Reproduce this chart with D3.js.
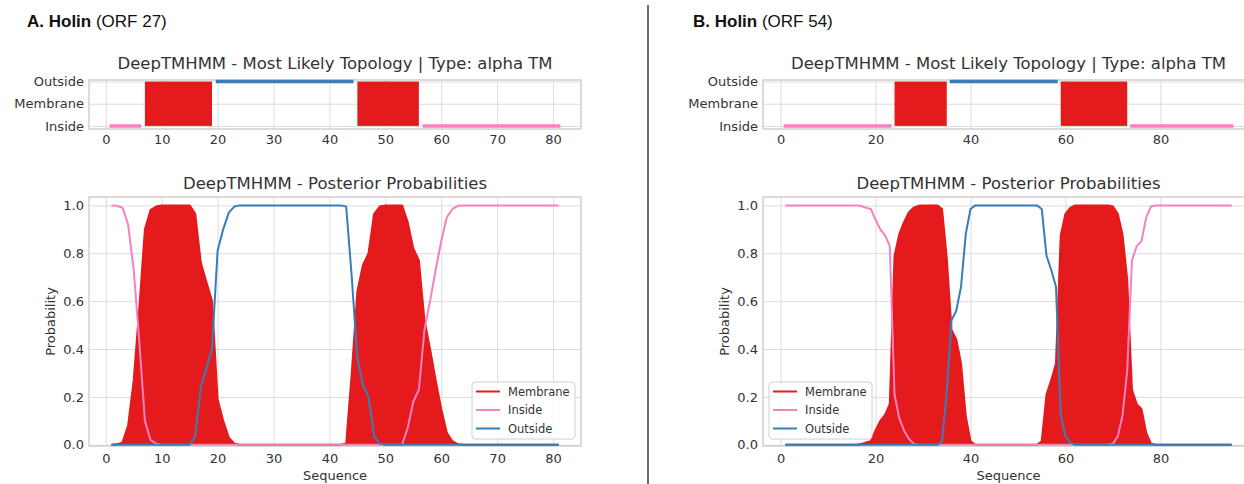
<!DOCTYPE html>
<html>
<head>
<meta charset="utf-8">
<script src="https://cdn.jsdelivr.net/npm/d3@7"></script>
<style>
  body { margin: 0; background: #fff; }
  svg { display: block; font-family: "DejaVu Sans", sans-serif; }
</style>
</head>
<body>
<div id="chart"></div>
<script>
// topology classes, bottom to top
var topoLabels = ['Inside', 'Membrane', 'Outside'];
var probTicks = [0, 0.2, 0.4, 0.6, 0.8, 1.0];
var legendNames = ['Membrane', 'Inside', 'Outside'];

// A. Holin (ORF 27) - 81 residues
var topoTypeA = ['Inside', 'Membrane', 'Outside', 'Membrane', 'Inside'];
var topoStartA = [1, 7, 20, 45, 57];
var topoEndA = [6, 19, 44, 56, 81];
var xTicksA = [0, 10, 20, 30, 40, 50, 60, 70, 80];

var membraneA = [
  0, 0.002, 0.01, 0.08, 0.27, 0.57, 0.90, 0.98, 0.995, 1,
  1, 1, 1, 1, 1, 0.965, 0.76, 0.68, 0.60, 0.19,
  0.10, 0.03, 0.005, 0, 0, 0, 0, 0, 0, 0,
  0, 0, 0, 0, 0, 0, 0, 0, 0, 0,
  0, 0, 0.005, 0.30, 0.64, 0.75, 0.80, 0.965, 0.995, 1,
  1, 1, 1, 0.93, 0.82, 0.77, 0.52, 0.40, 0.27, 0.15,
  0.05, 0.015, 0.002, 0, 0, 0, 0, 0, 0, 0,
  0, 0, 0, 0, 0, 0, 0, 0, 0, 0,
  0
];
var insideA = [
  1, 0.998, 0.99, 0.92, 0.73, 0.43, 0.10, 0.02, 0.005, 0,
  0, 0, 0, 0, 0, 0, 0, 0, 0, 0,
  0, 0, 0, 0, 0, 0, 0, 0, 0, 0,
  0, 0, 0, 0, 0, 0, 0, 0, 0, 0,
  0, 0, 0, 0, 0, 0, 0, 0, 0, 0,
  0, 0, 0, 0.07, 0.18, 0.23, 0.48, 0.60, 0.73, 0.85,
  0.95, 0.985, 0.998, 1, 1, 1, 1, 1, 1, 1,
  1, 1, 1, 1, 1, 1, 1, 1, 1, 1,
  1
];
var outsideA = [
  0, 0, 0, 0, 0, 0, 0, 0, 0, 0,
  0, 0, 0, 0, 0, 0.035, 0.24, 0.32, 0.40, 0.81,
  0.90, 0.97, 0.995, 1, 1, 1, 1, 1, 1, 1,
  1, 1, 1, 1, 1, 1, 1, 1, 1, 1,
  1, 1, 0.995, 0.70, 0.36, 0.25, 0.20, 0.035, 0.005, 0,
  0, 0, 0, 0, 0, 0, 0, 0, 0, 0,
  0, 0, 0, 0, 0, 0, 0, 0, 0, 0,
  0, 0, 0, 0, 0, 0, 0, 0, 0, 0,
  0
];

// B. Holin (ORF 54) - 95 residues
var topoTypeB = ['Inside', 'Membrane', 'Outside', 'Membrane', 'Inside'];
var topoStartB = [1, 24, 36, 59, 74];
var topoEndB = [23, 35, 58, 73, 95];
var xTicksB = [0, 20, 40, 60, 80];

var membraneB = [
  0, 0, 0, 0, 0, 0, 0, 0, 0, 0,
  0, 0, 0, 0, 0, 0, 0.003, 0.01, 0.015, 0.06,
  0.10, 0.125, 0.17, 0.79, 0.88, 0.93, 0.97, 0.99, 0.998, 1,
  1, 1, 1, 0.985, 0.78, 0.48, 0.44, 0.34, 0.12, 0.015,
  0, 0, 0, 0, 0, 0, 0, 0, 0, 0,
  0, 0, 0, 0, 0.015, 0.21, 0.27, 0.34, 0.875, 0.965,
  0.99, 1, 1, 1, 1, 1, 1, 1, 1, 0.995,
  0.965, 0.88, 0.69, 0.23, 0.17, 0.15, 0.05, 0.005, 0, 0,
  0, 0, 0, 0, 0, 0, 0, 0, 0, 0,
  0, 0, 0, 0, 0
];
var insideB = [
  1, 1, 1, 1, 1, 1, 1, 1, 1, 1,
  1, 1, 1, 1, 1, 1, 0.997, 0.99, 0.985, 0.94,
  0.90, 0.875, 0.83, 0.21, 0.11, 0.06, 0.025, 0.005, 0, 0,
  0, 0, 0, 0, 0, 0, 0, 0, 0, 0,
  0, 0, 0, 0, 0, 0, 0, 0, 0, 0,
  0, 0, 0, 0, 0, 0, 0, 0, 0, 0,
  0, 0, 0, 0, 0, 0, 0, 0, 0, 0.005,
  0.035, 0.12, 0.31, 0.77, 0.83, 0.85, 0.95, 0.995, 1, 1,
  1, 1, 1, 1, 1, 1, 1, 1, 1, 1,
  1, 1, 1, 1, 1
];
var outsideB = [
  0, 0, 0, 0, 0, 0, 0, 0, 0, 0,
  0, 0, 0, 0, 0, 0, 0, 0, 0, 0,
  0, 0, 0, 0, 0, 0, 0, 0, 0, 0,
  0, 0, 0, 0.015, 0.22, 0.52, 0.56, 0.66, 0.88, 0.985,
  1, 1, 1, 1, 1, 1, 1, 1, 1, 1,
  1, 1, 1, 1, 0.985, 0.79, 0.73, 0.66, 0.125, 0.035,
  0.01, 0, 0, 0, 0, 0, 0, 0, 0, 0,
  0, 0, 0, 0, 0, 0, 0, 0, 0, 0,
  0, 0, 0, 0, 0, 0, 0, 0, 0, 0,
  0, 0, 0, 0, 0
];

var colors = { Membrane: '#e41a1c', Inside: '#f781bf', Outside: '#377eb8' };
var gridColor = '#dcdcdc',
    textColor = '#333';

var svg = d3.select('#chart').append('svg')
    .attr('width', 1244)
    .attr('height', 484);

// divider between the two panels
svg.append('line')
  .attr('x1', 648).attr('x2', 648)
  .attr('y1', 5).attr('y2', 484)
  .attr('stroke', '#3a3a3a')
  .attr('stroke-width', 1.5);

function drawPanel(p) {
  var x = d3.scaleLinear().domain(p.xDomain).range(p.xRange);
  var yTopo = d3.scaleLinear().domain([-0.14, 2.07]).range([129, 80]);
  var yProb = d3.scaleLinear().domain([-0.005, 1.035]).range([446, 197]);
  var x0 = p.xRange[0], x1 = p.xRange[1];
  var cx = (x0 + x1) / 2;

  // panel heading
  var head = svg.append('text')
    .attr('x', p.headX)
    .attr('y', 27)
    .style('font-family', '"Liberation Sans", Arial, sans-serif')
    .style('font-size', '17px')
    .attr('fill', '#111');
  head.append('tspan').style('font-weight', 'bold').text(p.head);
  head.append('tspan').text(' ' + p.sub);

  // ---------- topology plot ----------
  var g1 = svg.append('g');

  g1.append('g')
    .attr('transform', 'translate(0,129)')
    .call(d3.axisBottom(x).tickValues(p.xTicks).tickSize(-49).tickPadding(6))
    .call(styleAxis);

  g1.append('g')
    .attr('transform', `translate(${x0},0)`)
    .call(d3.axisLeft(yTopo).tickValues([0, 1, 2]).tickFormat(d => topoLabels[d])
      .tickSize(-(x1 - x0)).tickPadding(5))
    .call(styleAxis);

  g1.append('rect')
    .attr('x', x0).attr('y', 80)
    .attr('width', x1 - x0).attr('height', 49)
    .attr('fill', 'none')
    .attr('stroke', '#cfcfcf')
    .attr('stroke-width', 1.5);

  var segs = p.topoType.map((t, i) => ({ type: t, start: p.topoStart[i], end: p.topoEnd[i] }));

  g1.selectAll('rect.tm')
    .data(segs.filter(d => d.type == 'Membrane'))
    .enter().append('rect')
      .attr('class', 'tm')
      .attr('x', d => x(d.start))
      .attr('y', yTopo(2))
      .attr('width', d => x(d.end) - x(d.start))
      .attr('height', yTopo(0) - yTopo(2))
      .attr('fill', colors.Membrane);

  g1.selectAll('line.seg')
    .data(segs.filter(d => d.type != 'Membrane'))
    .enter().append('line')
      .attr('class', 'seg')
      .attr('x1', d => x(d.start))
      .attr('x2', d => x(d.end))
      .attr('y1', d => yTopo(d.type == 'Outside' ? 2 : 0))
      .attr('y2', d => yTopo(d.type == 'Outside' ? 2 : 0))
      .attr('stroke', d => colors[d.type])
      .attr('stroke-width', 3.5)
      .attr('stroke-linecap', 'square');

  g1.append('text')
    .attr('x', cx).attr('y', 69)
    .attr('text-anchor', 'middle')
    .style('font-size', '16.5px')
    .attr('fill', textColor)
    .text('DeepTMHMM - Most Likely Topology | Type: alpha TM');

  // ---------- posterior probabilities ----------
  var g2 = svg.append('g');

  g2.append('g')
    .attr('transform', 'translate(0,446)')
    .call(d3.axisBottom(x).tickValues(p.xTicks).tickSize(-249).tickPadding(8))
    .call(styleAxis);

  g2.append('g')
    .attr('transform', `translate(${x0},0)`)
    .call(d3.axisLeft(yProb).tickValues(probTicks).tickFormat(d3.format('.1f'))
      .tickSize(-(x1 - x0)).tickPadding(5))
    .call(styleAxis);

  g2.append('rect')
    .attr('x', x0).attr('y', 197)
    .attr('width', x1 - x0).attr('height', 249)
    .attr('fill', 'none')
    .attr('stroke', '#cfcfcf')
    .attr('stroke-width', 1.5);

  var pts = p.membrane.map((m, i) => ({ pos: i + 1, m: m, i: p.inside[i], o: p.outside[i] }));

  g2.append('path')
    .datum(pts)
    .attr('fill', colors.Membrane)
    .attr('d', d3.area().x(d => x(d.pos)).y0(yProb(0)).y1(d => yProb(d.m)));

  var series = [['m', 'Membrane'], ['i', 'Inside'], ['o', 'Outside']];
  series.forEach(s => {
    g2.append('path')
      .datum(pts)
      .attr('fill', 'none')
      .attr('stroke', colors[s[1]])
      .attr('stroke-width', 2)
      .attr('stroke-linejoin', 'round')
      .attr('d', d3.line().x(d => x(d.pos)).y(d => yProb(d[s[0]])));
  });

  g2.append('text')
    .attr('x', cx).attr('y', 189)
    .attr('text-anchor', 'middle')
    .style('font-size', '16.5px')
    .attr('fill', textColor)
    .text('DeepTMHMM - Posterior Probabilities');

  g2.append('text')
    .attr('x', cx).attr('y', 480)
    .attr('text-anchor', 'middle')
    .style('font-size', '13px')
    .attr('fill', textColor)
    .text('Sequence');

  g2.append('text')
    .attr('transform', `translate(${x0 - 34},${(197 + 446) / 2}) rotate(-90)`)
    .attr('text-anchor', 'middle')
    .style('font-size', '13px')
    .attr('fill', textColor)
    .text('Probability');

  // legend
  var lg = g2.append('g').attr('transform', `translate(${p.legendX},382)`);
  lg.append('rect')
    .attr('width', 103).attr('height', 57)
    .attr('rx', 3)
    .attr('fill', 'white').attr('fill-opacity', 0.85)
    .attr('stroke', '#d0d0d0');

  var item = lg.selectAll('g.item')
    .data(legendNames)
    .enter().append('g')
      .attr('class', 'item')
      .attr('transform', (d, i) => `translate(0,${9.5 + i * 18.5})`);

  item.append('line')
    .attr('x1', 4).attr('x2', 28)
    .attr('stroke', d => colors[d])
    .attr('stroke-width', 2);

  item.append('text')
    .attr('x', 36)
    .attr('dy', '0.35em')
    .style('font-size', '11.5px')
    .attr('fill', textColor)
    .text(d => d);
}

function styleAxis(g) {
  g.select('.domain').remove();
  g.selectAll('.tick line').attr('stroke', gridColor).attr('stroke-width', 1);
  g.selectAll('.tick text')
    .attr('fill', textColor)
    .style('font-size', '13px')
    .style('font-family', '"DejaVu Sans", sans-serif');
}

drawPanel({
  head: 'A. Holin', sub: '(ORF 27)', headX: 27,
  xDomain: [-3, 85], xRange: [89, 581], xTicks: xTicksA,
  topoType: topoTypeA, topoStart: topoStartA, topoEnd: topoEndA,
  membrane: membraneA, inside: insideA, outside: outsideA,
  legendX: 472
});

drawPanel({
  head: 'B. Holin', sub: '(ORF 54)', headX: 693,
  xDomain: [-3.7, 99.7], xRange: [763, 1254], xTicks: xTicksB,
  topoType: topoTypeB, topoStart: topoStartB, topoEnd: topoEndB,
  membrane: membraneB, inside: insideB, outside: outsideB,
  legendX: 769
});
</script>
</body>
</html>
